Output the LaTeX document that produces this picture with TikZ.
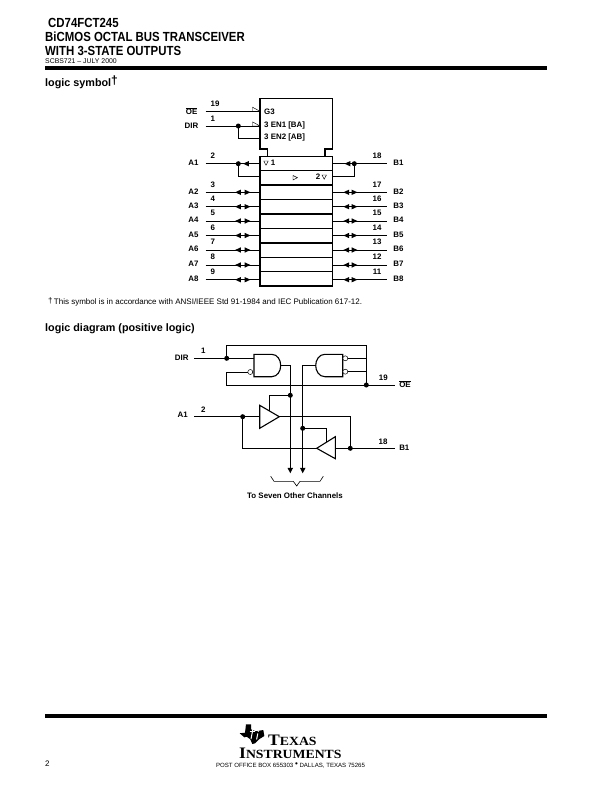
\documentclass[tikz,border=0pt]{standalone}
\usepackage{fontspec}
\setmainfont{Liberation Sans}
\newfontfamily\logofont{Liberation Serif}
\usetikzlibrary{arrows.meta,calc}
\tikzset{
 wire/.style={line width=0.8pt},
 thickline/.style={line width=1.6pt},
 box/.style={line width=1.2pt},
 pin/.style={inner sep=0pt,font=\fontsize{7.9}{8}\selectfont\bfseries},
 small/.style={inner sep=0pt,font=\fontsize{7.9}{8}\selectfont\bfseries},
 dotm/.style={circle,fill=black,inner sep=0pt,minimum size=5pt},
 bub/.style={circle,draw=black,fill=white,line width=0.5pt,inner sep=0pt,minimum size=5pt},
 title/.style={inner sep=0pt,anchor=west,font=\fontsize{13.2}{14}\selectfont\bfseries},
 head/.style={inner sep=0pt,anchor=west,font=\fontsize{10.8}{11}\selectfont\bfseries},
 tiny/.style={inner sep=0pt,anchor=west,font=\fontsize{6.9}{7}\selectfont},
 bar/.style={fill=black},
 thintri/.style={line width=0.45pt},
 gate/.style={draw=black,fill=white,line width=1.1pt},
}
\newcommand{\lefttip}[2]{\fill (#1+2.9,#2-2.7) -- (#1+2.9,#2+2.7) -- (#1-2.9,#2) -- cycle;}
\newcommand{\righttip}[2]{\fill (#1-2.9,#2-2.7) -- (#1-2.9,#2+2.7) -- (#1+2.9,#2) -- cycle;}
\newcommand{\downtip}[2]{\fill (#1-2.8,#2-5.5) -- (#1+2.8,#2-5.5) -- (#1,#2) -- cycle;}
\begin{document}
\begin{tikzpicture}[x=1pt,y=-1pt]
\useasboundingbox (0,0) rectangle (612,792);
\fill[white] (0,0) rectangle (612,792);
% headers
\node[title] (t1) at (48,23) {\scalebox{0.865}[1]{CD74FCT245}};
\node[title] (t2) at (45,36.5) {\scalebox{0.865}[1]{BiCMOS OCTAL BUS TRANSCEIVER}};
\node[title] (t3) at (45,50.5) {\scalebox{0.865}[1]{WITH 3-STATE OUTPUTS}};
\node[tiny] (t4) at (45,61.5) {SCBS721 – JULY 2000};
\fill[bar] (45,66.3) rectangle (547,70);
\node[head] (h1) at (45,82) {logic symbol\raisebox{2pt}{\fontsize{12}{12}\selectfont†}};
\node[head] (h2) at (45,328.5) {logic diagram (positive logic)};
\node[inner sep=0pt,anchor=west,font=\fontsize{8}{8}\selectfont] (fn) at (48,302) {\raisebox{1pt}{†}\,This symbol is in accordance with ANSI/IEEE Std 91-1984 and IEC Publication 617-12.};
% logic symbol: control block
\draw[box] (267.7,156.3) -- (267.7,149) -- (260,149) -- (260,98.3) -- (332.7,98.3) -- (332.7,149) -- (325,149) -- (325,156.3);
\node[small,anchor=west] (g3) at (264,111.3) {G3};
\node[small,anchor=west] (en1) at (264,125) {3 EN1 [BA]};
\node[small,anchor=west] (en2) at (264,137) {3 EN2 [AB]};
% rows
\draw[box] (260,156.3) rectangle (332.7,286);
\draw[wire] (260,170.3) -- (332.7,170.3);
\foreach \y in {185,213.7,242.7}{\draw[thickline] (260,\y) -- (332.7,\y);}
\foreach \y in {199.3,228.3,257.3,271.7}{\draw[wire] (260,\y) -- (332.7,\y);}
\node[small] (r1) at (273,162.6) {1};
\node[small] (r2) at (318,176.8) {2};
\draw[thintri] (263.8,161) -- (268.2,161) -- (266,165.2) -- cycle;
\draw[thintri] (322,175) -- (326.4,175) -- (324.2,179.2) -- cycle;
\draw[thintri] (293,175.5) -- (293,180) -- (297.4,177.7) -- cycle;
% control pins
\coordinate (oeS) at (205.7,111.3); \coordinate (oeE) at (260,111.3);
\coordinate (dirS) at (205.7,126); \coordinate (dirE) at (260,126);
\coordinate (dirD) at (238.3,126); \coordinate (dirF) at (260,138);
\draw[wire] (oeS) -- (oeE);
\draw[wire] (dirS) -- (dirE);
\draw[wire] (dirD) |- (dirF);
\node[dotm] (dd) at (dirD) {};
\draw[thintri] (252.5,107.2) -- (252.5,111.3) -- (260,111.3) -- cycle;
\draw[thintri] (252.5,121.9) -- (252.5,126) -- (260,126) -- cycle;
\node[pin] (lOE) at (191.7,111) {$\overline{\mbox{OE}}$};
\node[pin] (lDIR) at (191.5,125.5) {DIR};
\node[pin] (n19) at (215,103.3) {19};
\node[pin] (n1) at (212.7,119) {1};
% A1/B1
\coordinate (a1S) at (205.7,163.7); \coordinate (a1E) at (260,163.7); \coordinate (a1D) at (238.3,163.7); \coordinate (a1F) at (260,176.3);
\coordinate (b1S) at (386.7,163.7); \coordinate (b1E) at (332.7,163.7); \coordinate (b1D) at (354.3,163.7); \coordinate (b1F) at (332.7,176.3);
\draw[wire] (a1S) -- (a1E); \draw[wire] (a1D) |- (a1F);
\draw[wire] (b1S) -- (b1E); \draw[wire] (b1D) |- (b1F);
\node[dotm] (ad) at (a1D) {}; \node[dotm] (bd) at (b1D) {};
\lefttip{246}{163.7} \lefttip{347.5}{163.7}
\node[pin] (la1) at (193.5,162.8) {A1}; \node[pin] (lb1) at (398.5,162.8) {B1};
\node[pin] (pa1) at (212.7,155.7) {2}; \node[pin] (pb1) at (377,155.7) {18};
% A2..A8
\foreach \i/\y/\a/\b in {2/192.3/3/17,3/206.7/4/16,4/221/5/15,5/235.5/6/14,6/250/7/13,7/265/8/12,8/279.7/9/11}{
  \coordinate (aS\i) at (205.7,\y); \coordinate (aE\i) at (260,\y);
  \coordinate (bS\i) at (386.7,\y); \coordinate (bE\i) at (332.7,\y);
  \draw[wire] (aS\i) -- (aE\i); \draw[wire] (bS\i) -- (bE\i);
  \lefttip{238}{\y} \righttip{247.5}{\y} \lefttip{346.3}{\y} \righttip{354.5}{\y}
  \node[pin] (la\i) at (193.5,\y-1) {A\i}; \node[pin] (lb\i) at (398.5,\y-1) {B\i};
  \node[pin] (pa\i) at (212.7,\y-7.8) {\a}; \node[pin] (pb\i) at (377,\y-7.8) {\b};
}
% logic diagram coordinates
\coordinate (dS) at (194.3,358.3); \coordinate (dD) at (226.7,358.3); \coordinate (g1a) at (254,358.3);
\coordinate (g1b) at (252.8,372); \coordinate (cL) at (226.7,372);
\coordinate (oeD) at (366.3,385); \coordinate (oeEnd) at (394.7,385); \coordinate (oeL) at (226.7,385);
\coordinate (topL) at (226.7,345.3); \coordinate (topR) at (366.3,345.3);
\coordinate (g2a) at (347.7,358.3); \coordinate (g2b) at (347.7,371.7); \coordinate (rA) at (366.3,358.3); \coordinate (rB) at (366.3,371.7);
\coordinate (g1o) at (280.7,365); \coordinate (v1t) at (290.3,365); \coordinate (v1b) at (290.3,470);
\coordinate (g2o) at (315.7,365); \coordinate (v2t) at (302.7,365); \coordinate (v2b) at (302.7,470);
\coordinate (en1D) at (290.3,395.3); \coordinate (en1L) at (269.7,395.3); \coordinate (tr1top) at (269.7,411);
\coordinate (en2D) at (302.7,428.3); \coordinate (en2R) at (326.3,428.3); \coordinate (tr2top) at (326.3,442.3);
\coordinate (aS) at (194.3,416.7); \coordinate (aD) at (242.7,416.7); \coordinate (tr1in) at (259.7,416.7); \coordinate (tr1out) at (279.3,416.7);
\coordinate (bR) at (350.3,416.7); \coordinate (bD) at (350.3,448.3); \coordinate (bEnd) at (394.7,448.3);
\coordinate (tr2in) at (335.3,448.3); \coordinate (tr2out) at (316.7,448.3); \coordinate (aB) at (242.7,448.3);
% wires
\draw[wire] (dS) -- (g1a);
\draw[wire] (dD) -- (topL) -- (topR) -- (rB) -- (oeD);
\draw[wire] (rA) -- (g2a); \draw[wire] (rB) -- (g2b);
\draw[wire] (g1b) -- (cL) -- (oeL) -- (oeEnd);
\draw[wire] (g1o) -- (v1t) -- (v1b);
\draw[wire] (g2o) -- (v2t) -- (v2b);
\draw[wire] (en1D) -- (en1L) -- (tr1top);
\draw[wire] (en2D) -- (en2R) -- (tr2top);
\draw[wire] (aS) -- (tr1in);
\draw[wire] (tr1out) -- (bR) -- (bD) -- (tr2in);
\draw[wire] (bD) -- (bEnd);
\draw[wire] (tr2out) -- (aB) -- (aD);
\downtip{290.3}{473.3} \downtip{302.7}{473.3}
% gates
\draw[gate] (254,354.3) -- (271.7,354.3) .. controls (277.5,354.3) and (280.7,360) .. (280.7,365.5) .. controls (280.7,371) and (277.5,376.7) .. (271.7,376.7) -- (254,376.7) -- cycle;
\draw[gate] (342.7,354.3) -- (325,354.3) .. controls (319,354.3) and (315.7,360) .. (315.7,365.5) .. controls (315.7,371) and (319,376.7) .. (325,376.7) -- (342.7,376.7) -- cycle;
\node[bub] (b1) at (250.3,372) {};
\node[bub] (b2) at (345.3,358.3) {};
\node[bub] (b3) at (345.3,371.7) {};
% buffers
\draw[gate] (259.7,405.3) -- (279.3,416.7) -- (259.7,428.3) -- cycle;
\draw[gate] (335.3,436.7) -- (316.7,448.3) -- (335.3,458.7) -- cycle;
% dots
\node[dotm] (d1) at (dD) {}; \node[dotm] (d2) at (oeD) {}; \node[dotm] (d3) at (en1D) {};
\node[dotm] (d4) at (en2D) {}; \node[dotm] (d5) at (aD) {}; \node[dotm] (d6) at (bD) {};
% labels
\node[pin] (ldir) at (181.7,358) {DIR}; \node[pin] (ln1) at (203.3,351) {1};
\node[pin] (la) at (182.7,414.7) {A1}; \node[pin] (ln2) at (203.3,409.5) {2};
\node[pin] (ln19) at (383.3,378) {19}; \node[pin] (loe) at (405,384) {$\overline{\mbox{OE}}$};
\node[pin] (ln18) at (383,441.7) {18}; \node[pin] (lb) at (404.3,448) {B1};
% brace
\draw[line width=0.6pt] (270.7,476.3) -- (274,481.3) -- (293.3,481.3) -- (296.7,486) -- (300,481.3) -- (320,481.3) -- (323.3,476.3);
\node[pin] (chan) at (295,495.7) {To Seven Other Channels};
% footer
\fill[bar] (45,714.3) rectangle (547,718);
\node[inner sep=0pt,anchor=west,font=\fontsize{8}{8}\selectfont] (pg) at (45,764) {2};
\node[inner sep=0pt,font=\fontsize{6.1}{6}\selectfont] (po) at (290.5,765.3) {POST OFFICE BOX 655303 \raisebox{0.5pt}{\fontsize{8}{7}\selectfont •} DALLAS, TEXAS 75265};
\fill (246,724.3) -- (251,724.3) -- (251,729.3) -- (255.7,731.3) -- (263.3,730) -- (264.3,736) -- (259,739.3) -- (255,743.3) -- (252.3,744) -- (250.3,739.3) -- (246.7,736.7) -- (244.3,737.3) -- (239.7,733.3) -- (245,732.7) -- cycle;
\draw[white,line width=1pt] (253.2,727.5) -- (251,739);
\draw[white,line width=1pt] (249.5,731) -- (255,731);
\draw[white,line width=1pt] (257.8,733.5) -- (256.6,739.5);
\fill[white] (258.3,731) circle (0.8pt);
\node[inner sep=0pt,anchor=west,font=\logofont\bfseries] (ltx) at (268,740) {\scalebox{1.1}[1]{\fontsize{16}{16}\selectfont T\fontsize{12.5}{12}\selectfont EXAS}};
\node[inner sep=0pt,anchor=west,font=\logofont\bfseries] (lin) at (239,753) {\scalebox{1.1}[1]{\fontsize{16}{16}\selectfont I\fontsize{12.5}{12}\selectfont NSTRUMENTS}};
\end{tikzpicture}
\end{document}
